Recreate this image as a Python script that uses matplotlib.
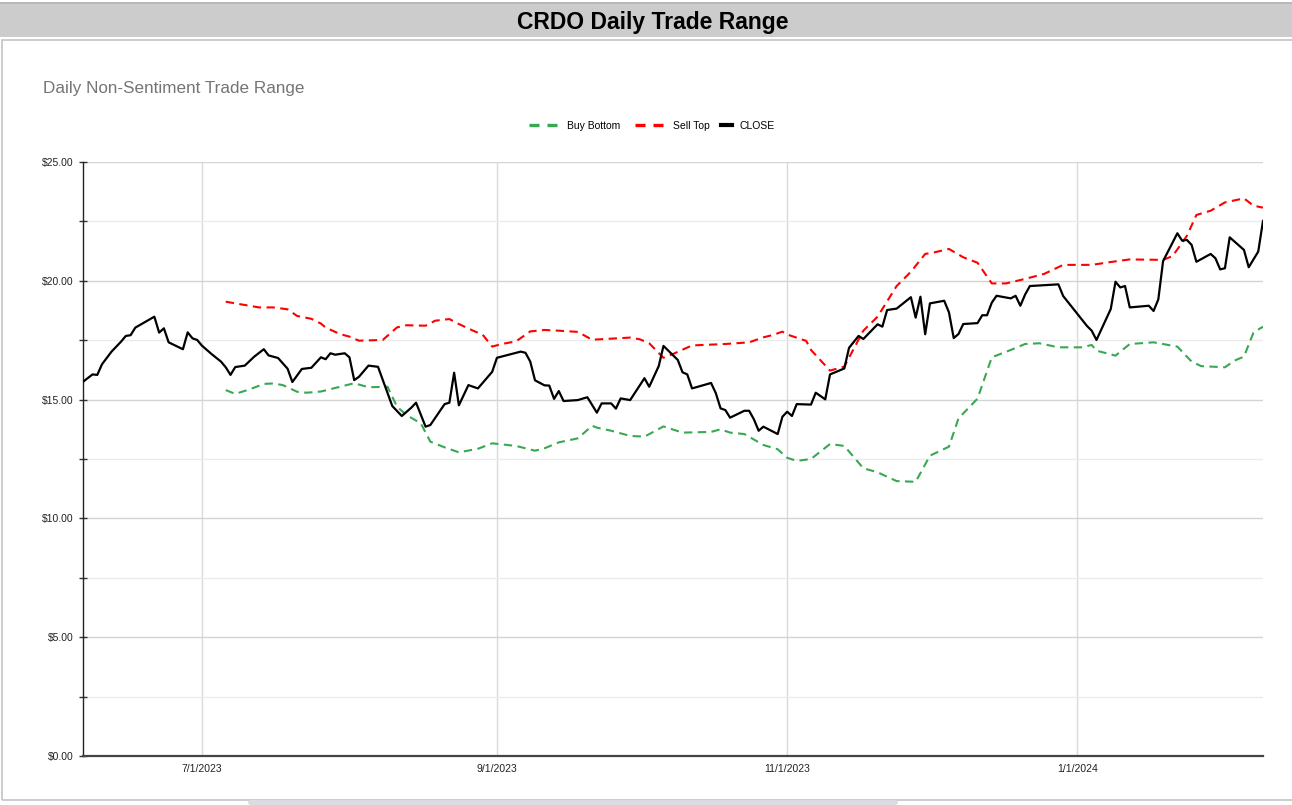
import matplotlib
matplotlib.use("Agg")
import matplotlib.pyplot as plt
from matplotlib.lines import Line2D
from matplotlib.patches import Rectangle, FancyBboxPatch
from matplotlib.ticker import FuncFormatter, MultipleLocator
import matplotlib.dates as mdates
import pandas as pd

plt.rcParams['font.family'] = ['Liberation Sans', 'DejaVu Sans']

# closing prices
close_dates = ["2023-06-06", "2023-06-08", "2023-06-09", "2023-06-10", "2023-06-12", "2023-06-14",
               "2023-06-15", "2023-06-16", "2023-06-17", "2023-06-21", "2023-06-22", "2023-06-23",
               "2023-06-24", "2023-06-27", "2023-06-28", "2023-06-29", "2023-06-30", "2023-07-01",
               "2023-07-03", "2023-07-05", "2023-07-06", "2023-07-07", "2023-07-08", "2023-07-10",
               "2023-07-12", "2023-07-14", "2023-07-15", "2023-07-17", "2023-07-19", "2023-07-20",
               "2023-07-22", "2023-07-24", "2023-07-26", "2023-07-27", "2023-07-28", "2023-07-29",
               "2023-07-31", "2023-08-01", "2023-08-02", "2023-08-03", "2023-08-05", "2023-08-07",
               "2023-08-10", "2023-08-12", "2023-08-14", "2023-08-15", "2023-08-17", "2023-08-18",
               "2023-08-21", "2023-08-22", "2023-08-23", "2023-08-24", "2023-08-26", "2023-08-28",
               "2023-08-31", "2023-09-01", "2023-09-06", "2023-09-07", "2023-09-08", "2023-09-09",
               "2023-09-11", "2023-09-12", "2023-09-13", "2023-09-14", "2023-09-15", "2023-09-18",
               "2023-09-20", "2023-09-22", "2023-09-23", "2023-09-25", "2023-09-26", "2023-09-27",
               "2023-09-29", "2023-10-02", "2023-10-03", "2023-10-05", "2023-10-06", "2023-10-09",
               "2023-10-10", "2023-10-11", "2023-10-12", "2023-10-16", "2023-10-17", "2023-10-18",
               "2023-10-19", "2023-10-20", "2023-10-23", "2023-10-24", "2023-10-25", "2023-10-26",
               "2023-10-27", "2023-10-30", "2023-10-31", "2023-11-01", "2023-11-02", "2023-11-03",
               "2023-11-06", "2023-11-07", "2023-11-09", "2023-11-10", "2023-11-13", "2023-11-14",
               "2023-11-16", "2023-11-17", "2023-11-20", "2023-11-21", "2023-11-22", "2023-11-24",
               "2023-11-27", "2023-11-28", "2023-11-29", "2023-11-30", "2023-12-01", "2023-12-04",
               "2023-12-05", "2023-12-06", "2023-12-07", "2023-12-08", "2023-12-11", "2023-12-12",
               "2023-12-13", "2023-12-14", "2023-12-15", "2023-12-18", "2023-12-19", "2023-12-20",
               "2023-12-21", "2023-12-22", "2023-12-28", "2023-12-29", "2024-01-03", "2024-01-04",
               "2024-01-05", "2024-01-08", "2024-01-09", "2024-01-10", "2024-01-11", "2024-01-12",
               "2024-01-16", "2024-01-17", "2024-01-18", "2024-01-19", "2024-01-22", "2024-01-23",
               "2024-01-24", "2024-01-25", "2024-01-26", "2024-01-29", "2024-01-30", "2024-01-31",
               "2024-02-01", "2024-02-02", "2024-02-05", "2024-02-06", "2024-02-08", "2024-02-09"]
close_vals = [15.75, 16.06, 16.04, 16.49, 17.02, 17.44,
              17.68, 17.71, 18.03, 18.49, 17.82, 18.00,
              17.41, 17.12, 17.83, 17.58, 17.51, 17.27,
              16.92, 16.60, 16.36, 16.04, 16.37, 16.43,
              16.81, 17.12, 16.86, 16.75, 16.30, 15.74,
              16.29, 16.34, 16.78, 16.70, 16.95, 16.89,
              16.95, 16.78, 15.82, 15.96, 16.43, 16.38,
              14.73, 14.31, 14.66, 14.87, 13.86, 13.93,
              14.81, 14.87, 16.13, 14.76, 15.61, 15.47,
              16.17, 16.76, 17.02, 16.97, 16.60, 15.81,
              15.60, 15.59, 15.03, 15.36, 14.94, 14.98,
              15.10, 14.45, 14.84, 14.84, 14.62, 15.05,
              14.98, 15.90, 15.54, 16.41, 17.26, 16.67,
              16.15, 16.06, 15.47, 15.70, 15.27, 14.63,
              14.56, 14.24, 14.53, 14.53, 14.17, 13.69,
              13.86, 13.55, 14.28, 14.49, 14.31, 14.81,
              14.79, 15.29, 15.01, 16.06, 16.31, 17.18,
              17.68, 17.55, 18.17, 18.07, 18.77, 18.83,
              19.31, 18.45, 19.33, 17.75, 19.05, 19.16,
              18.67, 17.59, 17.76, 18.18, 18.22, 18.55,
              18.55, 19.08, 19.37, 19.26, 19.37, 18.95,
              19.42, 19.78, 19.85, 19.36, 18.10, 17.90,
              17.51, 18.81, 19.96, 19.72, 19.78, 18.88,
              18.95, 18.73, 19.22, 20.83, 22.00, 21.69,
              21.72, 21.51, 20.80, 21.13, 20.95, 20.48,
              20.53, 21.83, 21.30, 20.57, 21.23, 22.52]

# sell top band
top_dates = ["2023-07-06", "2023-07-08", "2023-07-13", "2023-07-16", "2023-07-19", "2023-07-21",
             "2023-07-24", "2023-07-26", "2023-07-27", "2023-07-30", "2023-08-01", "2023-08-03",
             "2023-08-08", "2023-08-11", "2023-08-13", "2023-08-17", "2023-08-19", "2023-08-22",
             "2023-08-24", "2023-08-27", "2023-08-29", "2023-08-31", "2023-09-02", "2023-09-05",
             "2023-09-08", "2023-09-11", "2023-09-14", "2023-09-18", "2023-09-21", "2023-09-29",
             "2023-10-01", "2023-10-03", "2023-10-06", "2023-10-08", "2023-10-12", "2023-10-19",
             "2023-10-24", "2023-10-27", "2023-10-29", "2023-10-31", "2023-11-01", "2023-11-05",
             "2023-11-06", "2023-11-10", "2023-11-13", "2023-11-17", "2023-11-20", "2023-11-24",
             "2023-11-27", "2023-11-30", "2023-12-02", "2023-12-05", "2023-12-08", "2023-12-11",
             "2023-12-14", "2023-12-17", "2023-12-21", "2023-12-25", "2023-12-29", "2024-01-04",
             "2024-01-08", "2024-01-12", "2024-01-19", "2024-01-21", "2024-01-24", "2024-01-26",
             "2024-01-29", "2024-02-01", "2024-02-05", "2024-02-07", "2024-02-09"]
top_vals = [19.12, 19.05, 18.88, 18.88, 18.80, 18.52,
            18.40, 18.20, 18.03, 17.76, 17.65, 17.48,
            17.51, 18.04, 18.13, 18.11, 18.32, 18.39,
            18.18, 17.90, 17.73, 17.23, 17.34, 17.45,
            17.87, 17.93, 17.90, 17.85, 17.52, 17.61,
            17.54, 17.37, 16.76, 16.92, 17.28, 17.34,
            17.41, 17.62, 17.72, 17.86, 17.74, 17.47,
            17.09, 16.22, 16.39, 17.90, 18.49, 19.78,
            20.38, 21.13, 21.20, 21.34, 20.99, 20.76,
            19.89, 19.89, 20.08, 20.29, 20.67, 20.67,
            20.79, 20.90, 20.88, 21.04, 21.89, 22.77,
            22.95, 23.30, 23.47, 23.16, 23.08]

# buy bottom band
bottom_dates = ["2023-07-06", "2023-07-08", "2023-07-11", "2023-07-14", "2023-07-16", "2023-07-18",
                "2023-07-21", "2023-07-23", "2023-07-26", "2023-07-29", "2023-08-02", "2023-08-05",
                "2023-08-09", "2023-08-11", "2023-08-13", "2023-08-16", "2023-08-18", "2023-08-21",
                "2023-08-24", "2023-08-28", "2023-08-31", "2023-09-05", "2023-09-09", "2023-09-11",
                "2023-09-14", "2023-09-18", "2023-09-21", "2023-09-22", "2023-09-25", "2023-09-29",
                "2023-10-02", "2023-10-06", "2023-10-10", "2023-10-16", "2023-10-18", "2023-10-20",
                "2023-10-23", "2023-10-27", "2023-10-30", "2023-11-01", "2023-11-03", "2023-11-06",
                "2023-11-10", "2023-11-13", "2023-11-17", "2023-11-20", "2023-11-24", "2023-11-28",
                "2023-12-01", "2023-12-05", "2023-12-07", "2023-12-11", "2023-12-14", "2023-12-18",
                "2023-12-21", "2023-12-24", "2023-12-28", "2024-01-02", "2024-01-04", "2024-01-05",
                "2024-01-09", "2024-01-12", "2024-01-17", "2024-01-22", "2024-01-25", "2024-01-27",
                "2024-02-01", "2024-02-03", "2024-02-05", "2024-02-07", "2024-02-09"]
bottom_vals = [15.40, 15.24, 15.43, 15.66, 15.68, 15.61,
               15.33, 15.29, 15.34, 15.49, 15.69, 15.52,
               15.54, 14.70, 14.35, 14.00, 13.23, 12.99,
               12.78, 12.93, 13.16, 13.05, 12.85, 12.95,
               13.20, 13.37, 13.90, 13.82, 13.69, 13.47,
               13.44, 13.87, 13.61, 13.64, 13.75, 13.61,
               13.55, 13.09, 12.91, 12.55, 12.42, 12.50,
               13.13, 13.05, 12.11, 11.94, 11.57, 11.54,
               12.64, 13.02, 14.21, 15.04, 16.78, 17.09,
               17.34, 17.37, 17.20, 17.20, 17.30, 17.06,
               16.85, 17.34, 17.41, 17.23, 16.60, 16.41,
               16.36, 16.64, 16.81, 17.82, 18.07]

x_ticks = ["2023-07-01", "2023-09-01", "2023-11-01", "2024-01-01"]

GREEN = '#38a852'
RED = '#ff0000'

close = pd.Series(close_vals, index=pd.to_datetime(close_dates))
top = pd.Series(top_vals, index=pd.to_datetime(top_dates))
bottom = pd.Series(bottom_vals, index=pd.to_datetime(bottom_dates))

fig = plt.figure(figsize=(12.92, 8.05), dpi=100)
fig.patch.set_facecolor('white')

# spreadsheet header band + chart frame
fig.patches.append(Rectangle((0, 1 - 37 / 805), 1, 34 / 805, transform=fig.transFigure,
                             facecolor='#cccccc', edgecolor='none', zorder=0))
fig.patches.append(Rectangle((0, 1 - 4 / 805), 1, 1.5 / 805, transform=fig.transFigure,
                             facecolor='#b8b8b8', edgecolor='none', zorder=0))
fig.patches.append(Rectangle((2 / 1292, 1 - 800 / 805), 1.2, 760 / 805, transform=fig.transFigure,
                             facecolor='none', edgecolor='#c4c4c4', lw=1.2, zorder=0))
fig.patches.append(FancyBboxPatch((248 / 1292, 0.0), 650 / 1292, 5 / 805,
                                  boxstyle='round,pad=0,rounding_size=0.003',
                                  transform=fig.transFigure, facecolor='#dadce0',
                                  edgecolor='none', zorder=0))

fig.text(0.505, 1 - 22 / 805, 'CRDO Daily Trade Range', ha='center', va='center',
         fontsize=16.5, fontweight='bold', color='black')
fig.text(43 / 1292, 1 - 88 / 805, 'Daily Non-Sentiment Trade Range', ha='left', va='center',
         fontsize=12.3, color='#757575')

ax = fig.add_axes([83 / 1292, 1 - 756 / 805, 1180 / 1292, 594 / 805])

ax.plot(bottom.index, bottom.values, color=GREEN, lw=1.5, dashes=(4, 2.6), zorder=3)
ax.plot(top.index, top.values, color=RED, lw=1.5, dashes=(4, 2.6), zorder=3)
ax.plot(close.index, close.values, color='black', lw=1.6, zorder=4)

ax.set_xlim(close.index[0], close.index[-1])
ax.set_ylim(0, 25)

ax.yaxis.set_major_locator(MultipleLocator(5))
ax.yaxis.set_minor_locator(MultipleLocator(2.5))
ax.yaxis.set_major_formatter(FuncFormatter(lambda v, p: f'${v:,.2f}'))
ax.set_xticks(pd.to_datetime(x_ticks))
ax.xaxis.set_major_formatter(FuncFormatter(
    lambda v, p: f'{mdates.num2date(v).month}/{mdates.num2date(v).day}/{mdates.num2date(v).year}'))

ax.grid(True, axis='y', which='major', color='#d4d4d4', lw=1)
ax.grid(True, axis='y', which='minor', color='#ebebeb', lw=1)
ax.grid(True, axis='x', which='major', color='#dadada', lw=1)
ax.set_axisbelow(True)

ax.tick_params(axis='y', which='both', direction='inout', length=6, width=1, color='#333333',
               labelsize=7.5, labelcolor='#222222', pad=4)
ax.tick_params(axis='x', length=0, labelsize=7.5, labelcolor='#222222', pad=6)

for s in ['top', 'right']:
    ax.spines[s].set_visible(False)
ax.spines['left'].set_color('#222222')
ax.spines['left'].set_linewidth(1)
ax.spines['bottom'].set_color('#444444')
ax.spines['bottom'].set_linewidth(1.6)

# legend: dashed bands, then a short solid swatch for the close
band_handles = [
    Line2D([], [], color=GREEN, lw=2.4, dashes=(3.0, 2.4)),
    Line2D([], [], color=RED, lw=2.4, dashes=(3.0, 2.4)),
]
fig.legend(band_handles, ['Buy Bottom', 'Sell Top'], loc='center',
           bbox_to_anchor=(619.5 / 1292, 1 - 126 / 805), ncol=2, frameon=False, fontsize=7.5,
           handlelength=2.9, handletextpad=0.75, columnspacing=1.35)
fig.legend([Line2D([], [], color='black', lw=3)], ['CLOSE'], loc='center',
           bbox_to_anchor=(748 / 1292, 1 - 126 / 805), frameon=False, fontsize=7.5,
           handlelength=1.0, handletextpad=0.75)

fig.savefig('out.png', dpi=100)
